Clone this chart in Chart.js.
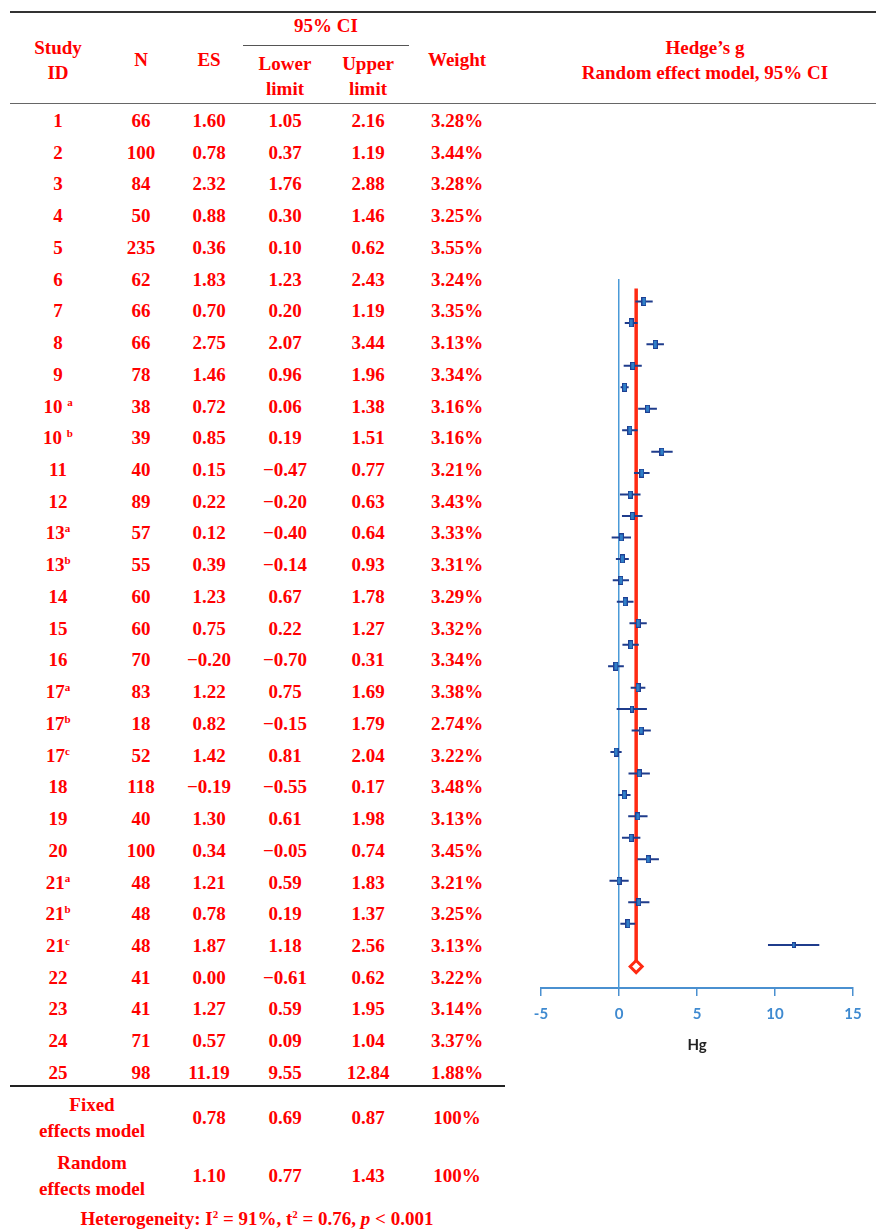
<!DOCTYPE html>
<html>
<head>
<meta charset="utf-8">
<script src="https://cdn.jsdelivr.net/npm/chart.js@4"></script>
<style>
  body { margin: 0; background: #fff; }
  #page { position: relative; width: 876px; height: 1230px; overflow: hidden; font-family: "Liberation Serif", serif; color: #ff0000; font-weight: bold; }
  .t { position: absolute; transform: translate(-50%, -50%); white-space: nowrap; line-height: 1; font-size: 19px; }
  .t sup { font-size: 11px; vertical-align: 7px; line-height: 0; }
  .rule { position: absolute; }
  #plot { position: absolute; left: 500px; top: 260px; }
</style>
</head>
<body>
<div id="page">
  <canvas id="plot" width="376" height="800"></canvas>
</div>
<script>
// table values
var studyIds = ['1','2','3','4','5','6','7','8','9','10 <sup>a</sup>','10 <sup>b</sup>','11','12','13<sup>a</sup>','13<sup>b</sup>','14','15','16','17<sup>a</sup>','17<sup>b</sup>','17<sup>c</sup>','18','19','20','21<sup>a</sup>','21<sup>b</sup>','21<sup>c</sup>','22','23','24','25'];
var nValues = [66,100,84,50,235,62,66,66,78,38,39,40,89,57,55,60,60,70,83,18,52,118,40,100,48,48,48,41,41,71,98];
var es = [1.60,0.78,2.32,0.88,0.36,1.83,0.70,2.75,1.46,0.72,0.85,0.15,0.22,0.12,0.39,1.23,0.75,-0.20,1.22,0.82,1.42,-0.19,1.30,0.34,1.21,0.78,1.87,0.00,1.27,0.57,11.19];
var lower = [1.05,0.37,1.76,0.30,0.10,1.23,0.20,2.07,0.96,0.06,0.19,-0.47,-0.20,-0.40,-0.14,0.67,0.22,-0.70,0.75,-0.15,0.81,-0.55,0.61,-0.05,0.59,0.19,1.18,-0.61,0.59,0.09,9.55];
var upper = [2.16,1.19,2.88,1.46,0.62,2.43,1.19,3.44,1.96,1.38,1.51,0.77,0.63,0.64,0.93,1.78,1.27,0.31,1.69,1.79,2.04,0.17,1.98,0.74,1.83,1.37,2.56,0.62,1.95,1.04,12.84];
var weights = [3.28,3.44,3.28,3.25,3.55,3.24,3.35,3.13,3.34,3.16,3.16,3.21,3.43,3.33,3.31,3.29,3.32,3.34,3.38,2.74,3.22,3.48,3.13,3.45,3.21,3.25,3.13,3.22,3.14,3.37,1.88];

var summaryNames = [['Fixed','effects model'], ['Random','effects model']];
var summaryEs = [0.78, 1.10];
var summaryLower = [0.69, 0.77];
var summaryUpper = [0.87, 1.43];
var summaryWeight = ['100%', '100%'];

var xTicks = [-5, 0, 5, 10, 15];

var page = document.getElementById('page');

function txt(html, x, y) {
  var d = document.createElement('div');
  d.className = 't';
  d.innerHTML = html;
  d.style.left = x + 'px';
  d.style.top = y + 'px';
  page.appendChild(d);
}
function rule(x, y, w, h, color) {
  var d = document.createElement('div');
  d.className = 'rule';
  d.style.cssText = 'left:' + x + 'px;top:' + y + 'px;width:' + w + 'px;height:' + h + 'px;background:' + color;
  page.appendChild(d);
}
function fmt(v) {
  return v.toFixed(2).replace('-', '\u2212');
}

// column centres
var cx = [58, 141, 209, 285, 368, 457];

// header
rule(10, 11, 866, 2, '#333');
txt('95% CI', 326, 25);
rule(243, 45, 166, 1, '#555');
txt('Study', cx[0], 47);
txt('ID', cx[0], 72);
txt('N', cx[1], 59);
txt('ES', cx[2], 59);
txt('Lower', cx[3], 63);
txt('limit', cx[3], 88);
txt('Upper', cx[4], 63);
txt('limit', cx[4], 88);
txt('Weight', cx[5], 59);
txt('Hedge\u2019s g', 705, 47);
txt('Random effect model, 95% CI', 705, 72);
rule(10, 103, 866, 1, '#666');

// body rows
var rowTop = 120, rowStep = 31.73;
studyIds.forEach(function(id, i) {
  var y = rowTop + i * rowStep;
  txt(id, cx[0], y);
  txt(String(nValues[i]), cx[1], y);
  txt(fmt(es[i]), cx[2], y);
  txt(fmt(lower[i]), cx[3], y);
  txt(fmt(upper[i]), cx[4], y);
  txt(weights[i].toFixed(2) + '%', cx[5], y);
});
rule(10, 1085, 495, 2, '#222');

// summary rows
summaryNames.forEach(function(nm, i) {
  var y = 1117 + i * 58;
  txt(nm[0], 92, y - 13);
  txt(nm[1], 92, y + 13);
  txt(fmt(summaryEs[i]), cx[2], y);
  txt(fmt(summaryLower[i]), cx[3], y);
  txt(fmt(summaryUpper[i]), cx[4], y);
  txt(summaryWeight[i], cx[5], y);
});
txt('Heterogeneity: I<sup>2</sup> = 91%, t<sup>2</sup> = 0.76, <i>p</i> &lt; 0.001', 257, 1218);

// forest plot
var pooled = summaryEs[1];
var ciPoints = [];
es.forEach(function(v, i) {
  ciPoints.push({x: lower[i], y: i + 1});
  ciPoints.push({x: upper[i], y: i + 1});
  ciPoints.push({x: upper[i], y: null});
});
var markers = es.map(function(v, i) { return {x: v, y: i + 1}; });
// box size follows study weight
var markerStyles = weights.map(function(w) {
  var c = document.createElement('canvas');
  var mw = Math.max(4, Math.round(w * 1.5)), mh = Math.max(6, Math.round(w * 2.6));
  c.width = mw; c.height = mh;
  var g = c.getContext('2d');
  g.fillStyle = '#1f3f93';
  g.fillRect(0, 0, mw, mh);
  g.fillStyle = '#2f7fc8';
  g.fillRect(1, 1, mw - 2, mh - 2);
  return c;
});

new Chart(document.getElementById('plot'), {
  type: 'scatter',
  data: {
    datasets: [
      {
        label: 'Random effects model',
        data: [{x: pooled, y: es.length + 1}],
        pointStyle: 'rectRot',
        pointRadius: 6,
        pointBorderWidth: 3,
        borderColor: '#ff2a12',
        backgroundColor: '#ffffff'
      },
      {
        label: 'ES',
        data: markers,
        pointStyle: markerStyles,
        pointRadius: 4
      },
      {
        label: '95% CI',
        type: 'line',
        data: ciPoints,
        borderColor: '#1f3c8c',
        borderWidth: 2,
        pointRadius: 0,
        spanGaps: false
      },
      {
        label: 'Pooled',
        type: 'line',
        data: [{x: pooled, y: 0.4}, {x: pooled, y: es.length + 1}],
        borderColor: '#ff2a12',
        borderWidth: 3.5,
        pointRadius: 0
      }
    ]
  },
  options: {
    responsive: false,
    animation: false,
    layout: { padding: { top: 20, left: 41, right: 23, bottom: 0 } },
    plugins: { legend: { display: false }, tooltip: { enabled: false } },
    scales: {
      x: {
        type: 'linear',
        min: xTicks[0],
        max: xTicks[xTicks.length - 1],
        afterBuildTicks: function(scale) { scale.ticks = xTicks.map(function(v) { return {value: v}; }); },
        afterFit: function(scale) { scale.height = 72; },
        ticks: { color: '#3f8ad0', padding: 9, font: { family: 'Lato', size: 15, weight: 'bold' } },
        grid: { drawOnChartArea: false, tickLength: 8, color: '#4a90d0', lineWidth: 1.5 },
        border: { color: '#4a90d0', width: 2 },
        title: { display: true, text: 'Hg', color: '#222', padding: { top: 4, bottom: 6 }, font: { family: 'Lato', size: 15, weight: 'bold' } }
      },
      y: {
        type: 'linear',
        min: 0,
        max: es.length + 2,
        reverse: true,
        position: { x: 0 },
        ticks: { display: false },
        grid: { display: false },
        border: { color: '#4a9ad8', width: 1.5 }
      }
    }
  }
});
</script>
</body>
</html>
